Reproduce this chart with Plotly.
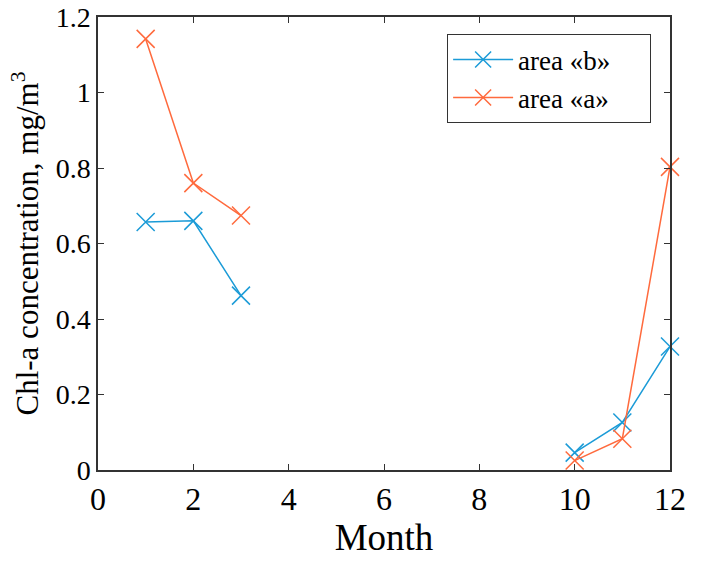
import plotly.graph_objects as go

months_b = [1, 2, 3, 10, 11, 12]
values_b = [0.657, 0.660, 0.462, 0.046, 0.126, 0.327]
months_a = [1, 2, 3, 10, 11, 12]
values_a = [1.142, 0.760, 0.674, 0.025, 0.083, 0.803]
x_ticks = [0, 2, 4, 6, 8, 10, 12]
y_ticks = [0, 0.2, 0.4, 0.6, 0.8, 1.0, 1.2]
y_tick_text = ["0", "0.2", "0.4", "0.6", "0.8", "1", "1.2"]
names = ["area «b»", "area «a»"]

blue = "#1b9bd7"
orange = "#ff6a3d"
font = "Liberation Serif"
pad = "\u00a0\u00a0\u00a0\u00a0\u00a0"

fig = go.Figure()
# gap between Mar and Oct
xb = months_b[:3] + [None] + months_b[3:]
yb = values_b[:3] + [None] + values_b[3:]
xa = months_a[:3] + [None] + months_a[3:]
ya = values_a[:3] + [None] + values_a[3:]
fig.add_trace(go.Scatter(x=xb, y=yb, mode="lines+markers", name=names[0] + pad,
                         line=dict(color=blue, width=1.5),
                         marker=dict(symbol="x-thin", size=18, line=dict(color=blue, width=1.5)),
                         connectgaps=False, cliponaxis=False))
fig.add_trace(go.Scatter(x=xa, y=ya, mode="lines+markers", name=names[1] + pad,
                         line=dict(color=orange, width=1.5),
                         marker=dict(symbol="x-thin", size=18, line=dict(color=orange, width=1.5)),
                         connectgaps=False, cliponaxis=False))

axis_common = dict(showgrid=False, zeroline=False, showline=True, linecolor="#333333",
                   linewidth=1.5, mirror="ticks", ticks="inside", ticklen=6,
                   tickcolor="#333333", tickwidth=1.2, automargin=False)
fig.update_xaxes(range=[0, 12], tickvals=x_ticks, ticktext=[str(v) for v in x_ticks],
                 tickfont=dict(family=font, size=32, color="black"),
                 title=dict(text="Month", font=dict(family=font, size=37, color="black"), standoff=4),
                 **axis_common)
fig.update_yaxes(range=[0, 1.2], tickvals=y_ticks, ticktext=y_tick_text,
                 tickfont=dict(family=font, size=28, color="black"),
                 title=dict(text="Chl-a concentration, mg/m<sup>3</sup>",
                            font=dict(family=font, size=31, color="black"), standoff=8),
                 **axis_common)

fig.update_layout(
    width=701, height=561,
    margin=dict(l=98, r=31, t=17, b=91),
    plot_bgcolor="white", paper_bgcolor="white",
    legend=dict(x=0.61, y=0.962, xanchor="left", yanchor="top",
                bordercolor="#333333", borderwidth=1.2, bgcolor="white",
                font=dict(family=font, size=27, color="black"),
                itemwidth=60, tracegroupgap=0),
    showlegend=True,
)
fig.write_html("out.html")
